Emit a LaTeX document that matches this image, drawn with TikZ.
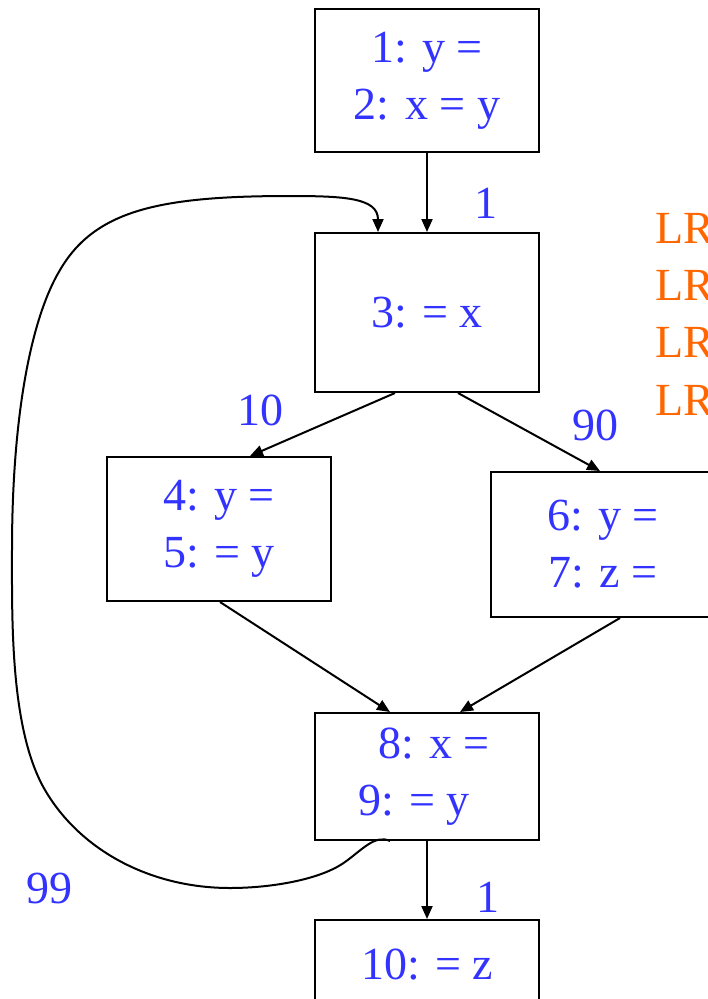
\documentclass[tikz,border=0pt]{standalone}
\usepackage{fontspec}
\setmainfont{Liberation Serif}
\usepackage{xcolor}
\usetikzlibrary{arrows.meta}
\definecolor{cfgblue}{RGB}{51,51,255}
\definecolor{lrorange}{RGB}{255,102,0}
\tikzstyle{block} = [rectangle, draw=black, line width=2pt, minimum width=224pt, align=center, text=cfgblue, font=\fontsize{46}{57}\selectfont]
\tikzstyle{freq} = [text=cfgblue, font=\fontsize{46}{54}\selectfont, inner sep=0pt]
\tikzstyle{lr} = [text=lrorange, font=\fontsize{46}{54}\selectfont, inner sep=0pt, anchor=west]
\tikzstyle{arrow} = [line width=2pt,-{Triangle[length=13pt,width=11pt]}]

\begin{document}
\begin{tikzpicture}[x=1pt,y=-1pt]
\clip (0,0) rectangle (708,999);

\node (blk12) [block, minimum height=143pt] at (427,80.5) {1: y =\\2: x = y};
\node (blk3) [block, minimum height=159pt] at (427,312.5) {3: = x};
\node (blk45) [block, minimum height=144pt] at (219,529) {4: y =\\5: = y};
\node (blk67) [block, minimum height=145pt] at (603,544.5) {6: y =\\7: z =};
\node (blk89) [block, minimum height=127pt] at (427,776.5) {\hspace*{14pt}8: x =\\9: = y\hspace*{26pt}};
\node (blk10) [block, minimum height=90pt] at (427,965) {10: = z};

\draw [arrow] (blk12) -- (blk3);
\draw [arrow] ([xshift=-32pt]blk3.south) -- ([xshift=31pt]blk45.north);
\draw [arrow] ([xshift=31pt]blk3.south) -- ([xshift=-3pt]blk67.north);
\draw [arrow] ([xshift=1pt]blk45.south) -- ([xshift=-37pt]blk89.north);
\draw [arrow] ([xshift=17pt]blk67.south) -- ([xshift=33pt]blk89.north);
\draw [arrow] (blk89) -- (blk10);

% back edge
\draw [arrow] ([xshift=-37pt]blk89.south) .. controls (375,834) and (362,850) .. (345,862)
  .. controls (320,880) and (270,888) .. (230,888)
  .. controls (150,888) and (80,850) .. (45,790)
  .. controls (10,730) and (12,620) .. (12,550)
  .. controls (12,420) and (30,320) .. (60,270)
  .. controls (95,210) and (160,196) .. (290,196)
  .. controls (345,196) and (378,198) .. ([xshift=-49pt]blk3.north);

\node (w1) [freq] at (486,203) {1};
\node (w10) [freq] at (260,410) {10};
\node (w90) [freq] at (595,425) {90};
\node (w99) [freq] at (50,888) {99};
\node (w1b) [freq] at (488,897) {1};

\node (lr1) [lr] at (655,228) {LR};
\node (lr2) [lr] at (655,285) {LR};
\node (lr3) [lr] at (655,342) {LR};
\node (lr4) [lr] at (655,400) {LR};

\end{tikzpicture}
\end{document}
